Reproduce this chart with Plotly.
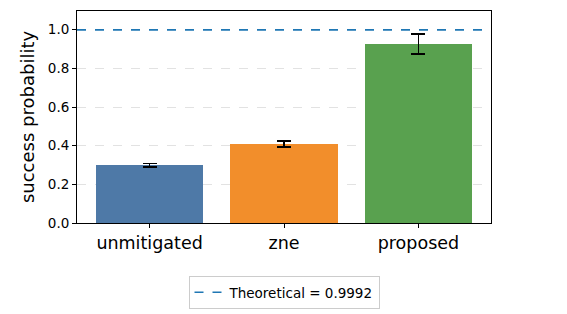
import plotly.graph_objects as go

categories = ["unmitigated", "zne", "proposed"]
values = [0.298, 0.410, 0.928]
errors = [0.010, 0.015, 0.052]
colors = ["#4e79a7", "#f28e2b", "#59a14f"]
theoretical = 0.9992
y_ticks = [0.0, 0.2, 0.4, 0.6, 0.8, 1.0]

fig = go.Figure()
fig.add_trace(go.Bar(
    x=list(range(len(categories))), y=values,
    marker=dict(color=colors, line=dict(width=0)),
    width=0.8,
    error_y=dict(type="data", array=errors, color="black", thickness=1.8, width=7),
    showlegend=False,
))
fig.add_shape(type="line", xref="paper", x0=0, x1=1, yref="y", y0=theoretical, y1=theoretical,
              line=dict(color="#1f77b4", width=1.6, dash="dash"),
              showlegend=True, name="Theoretical = 0.9992")

# page body has an 8px default margin; figure sized to fit the 567x314 window
fig.update_layout(
    width=559, height=306,
    margin=dict(l=69, r=75.6, t=3, b=90.7, autoexpand=False),
    plot_bgcolor="white", paper_bgcolor="white",
    font=dict(family="DejaVu Sans", color="black"),
    bargap=0,
    legend=dict(x=0.5, xanchor="center", y=-0.25, yanchor="top",
                orientation="h", bordercolor="#cccccc", borderwidth=1,
                font=dict(size=13.5), bgcolor="white", itemwidth=30),
)
fig.update_xaxes(
    range=[-0.54, 2.54], tickmode="array", tickvals=list(range(len(categories))),
    ticktext=categories, tickfont=dict(size=17.5), ticks="outside", ticklen=4,
    tickcolor="black", showline=True, linecolor="black", linewidth=1, mirror=True,
    showgrid=False, zeroline=False, automargin=False,
)
fig.update_yaxes(
    range=[0, 1.097], tickmode="array", tickvals=y_ticks,
    ticktext=[f"{t:.1f}" for t in y_ticks], tickfont=dict(size=13.5),
    ticks="outside", ticklen=4, tickcolor="black",
    showline=True, linecolor="black", linewidth=1, mirror=True,
    showgrid=True, gridcolor="#e2e2e2", griddash="dash", gridwidth=0.8,
    zeroline=False, automargin=False,
    title=dict(text="success probability", font=dict(size=18), standoff=8),
)
fig.write_html("out.html")
